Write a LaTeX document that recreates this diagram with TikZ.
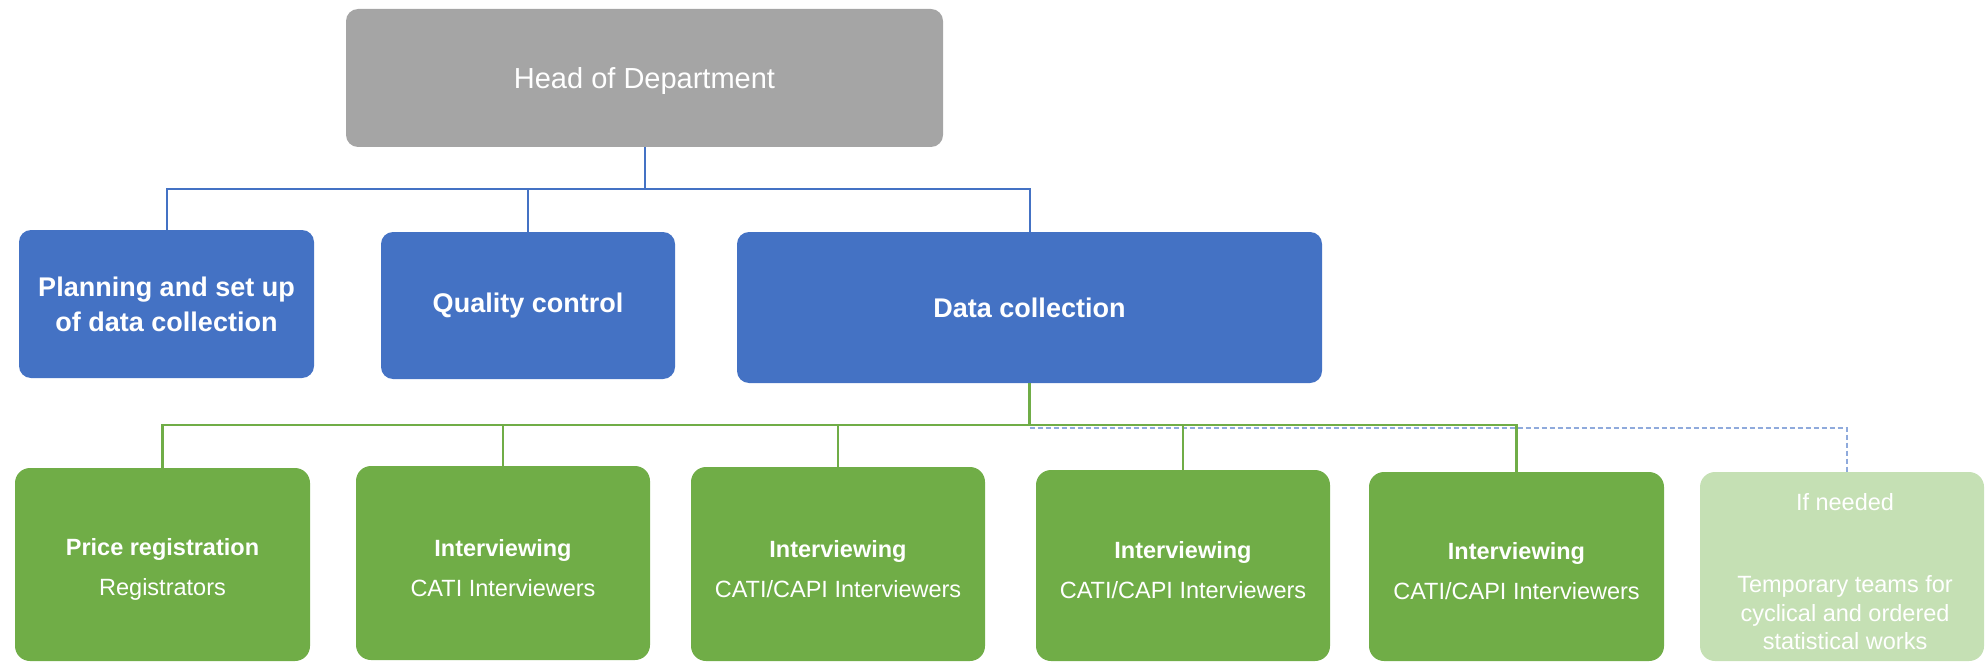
\documentclass[tikz,border=0pt]{standalone}
\usepackage{fontspec}
\setmainfont{Liberation Sans}
\definecolor{headgray}{HTML}{A5A5A5}
\definecolor{boxblue}{HTML}{4472C4}
\definecolor{boxgreen}{HTML}{70AD47}
\definecolor{lightgreen}{HTML}{C5E0B4}
\definecolor{dashblue}{HTML}{8FAADC}
\tikzset{
  orgbox/.style={rounded corners=12pt, text=white, align=center, inner sep=0pt},
  headbox/.style={orgbox, fill=headgray},
  headtext/.style={text=white, font=\fontsize{29}{34}\selectfont},
  bluebox/.style={orgbox, fill=boxblue, font=\fontsize{27}{35}\selectfont\bfseries},
  greenbox/.style={orgbox, rounded corners=15pt, fill=boxgreen},
  palebox/.style={orgbox, rounded corners=15pt, fill=lightgreen},
  greentext/.style={text=white, align=center, inner sep=0pt, font=\fontsize{23.5}{40}\selectfont},
  paletext/.style={text=white, align=center, inner sep=0pt, font=\fontsize{23.5}{28.5}\selectfont},
  blueline/.style={draw=boxblue, line width=2pt},
  greenline/.style={draw=boxgreen, line width=2.5pt},
  dashline/.style={draw=dashblue, line width=2pt, dash pattern=on 5pt off 3pt},
}
\begin{document}
\begin{tikzpicture}[x=1pt,y=-1pt]
\useasboundingbox (0,0) rectangle (1985,663);
% top
\node[headbox, minimum width=597pt, minimum height=138pt] (head) at (644.5,78) {};
\node[headtext] (headt) at ([yshift=-3pt]head.center) {Head of Department};
% blue row
\node[bluebox, minimum width=295pt, minimum height=148pt] (plan) at (166.5,304) {Planning and set up\\of data collection};
\node[bluebox, minimum width=294pt, minimum height=147pt] (qc) at (528,305.5) {\raisebox{-2pt}{Quality control}};
\node[bluebox, minimum width=585pt, minimum height=151pt] (dc) at (1029.5,307.5) {Data collection};
% green row
\node[greenbox, minimum width=295pt, minimum height=193pt] (g1) at (162.5,564.5) {};
\node[greenbox, minimum width=294pt, minimum height=194pt] (g2) at (503,563) {};
\node[greenbox, minimum width=294pt, minimum height=194pt] (g3) at (838,564) {};
\node[greenbox, minimum width=294pt, minimum height=191pt] (g4) at (1183,565.5) {};
\node[greenbox, minimum width=295pt, minimum height=189pt] (g5) at (1516.5,566.5) {};
\node[palebox, minimum width=284pt, minimum height=189pt] (g6) at (1842,566.5) {};
\node[greentext] (g1t) at ([yshift=-5pt]g1.center) {\textbf{Price registration}\\Registrators};
\node[greentext] (g2t) at ([yshift=-5pt]g2.center) {\textbf{Interviewing}\\CATI Interviewers};
\node[greentext] (g3t) at ([yshift=-5pt]g3.center) {\textbf{Interviewing}\\CATI/CAPI Interviewers};
\node[greentext] (g4t) at ([yshift=-5pt]g4.center) {\textbf{Interviewing}\\CATI/CAPI Interviewers};
\node[greentext] (g5t) at ([yshift=-5pt]g5.center) {\textbf{Interviewing}\\CATI/CAPI Interviewers};
\node[paletext] (g6t) at ([xshift=3pt,yshift=-5pt]g6.center) {If needed\\[54pt]Temporary teams for\\cyclical and ordered\\statistical works};
% blue connectors
\coordinate (bj) at (644.5,189);
\draw[blueline] (head.south) -- (bj);
\draw[blueline] (plan.north) -- (plan.north |- bj) -- (dc.north |- bj) -- (dc.north);
\draw[blueline] (qc.north) -- (qc.north |- bj);
% dashed connector
\coordinate (dj) at (1029.5,428);
\draw[dashline] (dc.south |- dj) -| ([xshift=5pt]g6.north);
% green connectors
\coordinate (gj) at (1029.5,425);
\draw[greenline] (dc.south) -- (gj);
\draw[greenline] (g1.north) -- (g1.north |- gj) -- (g5.north |- gj) -- (g5.north);
\draw[greenline] (g2.north) -- (g2.north |- gj);
\draw[greenline] (g3.north) -- (g3.north |- gj);
\draw[greenline] (g4.north) -- (g4.north |- gj);
\end{tikzpicture}
\end{document}
